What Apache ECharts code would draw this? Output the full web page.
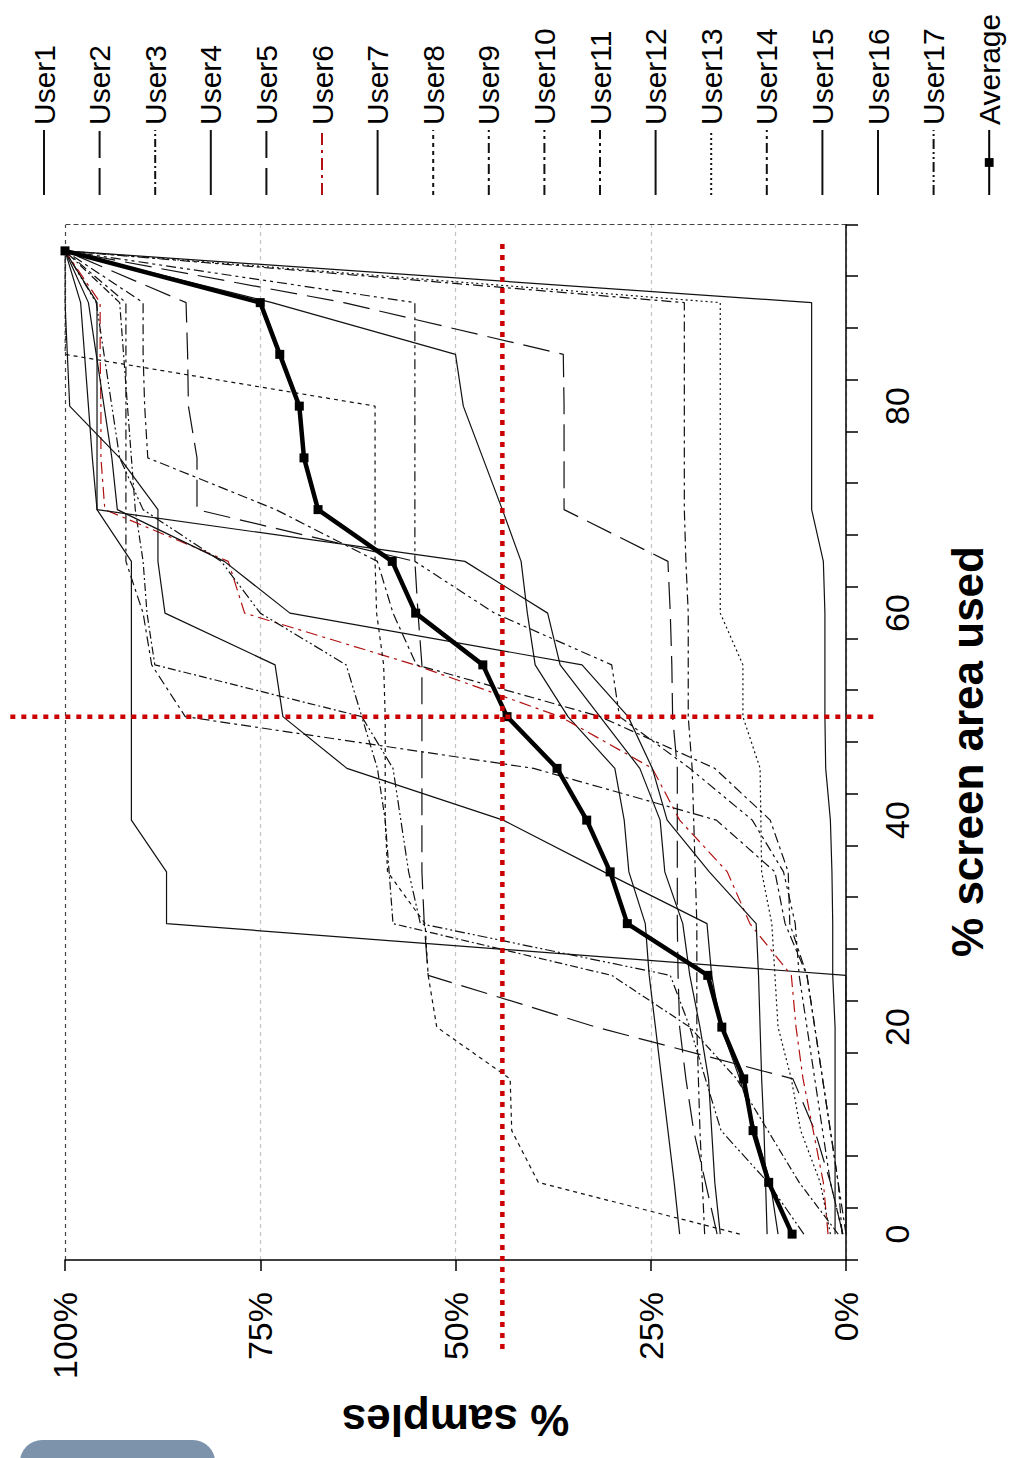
<!DOCTYPE html>
<html><head><meta charset="utf-8">
<script src="https://cdn.jsdelivr.net/npm/echarts@6/dist/echarts.min.js"></script>
<style>
html,body{margin:0;padding:0;background:#fff;overflow:hidden;width:1013px;height:1458px;}
#chart{position:absolute;left:0;top:0;width:1458px;height:1013px;transform-origin:0 0;transform:translate(0px,1458px) rotate(-90deg);}
</style></head><body><div id="chart"></div>
<script>
// x categories: % screen area used
const categories = ['0','5','10','15','20','25','30','35','40','45','50','55','60','65','70','75','80','85','90','95'];
const xTickLabels = ['0','20','40','60','80'];
const yTickValues = [0,25,50,75,100];
// % samples per user
const user1  = [0,0,0,0,0,0,87,87,91.5,91.5,91.5,91.5,91.5,91.5,95.9,95.9,95.9,95.9,95.9,100];
const user2  = [16.5,18.0,19.5,20.5,21.3,21.5,21.6,21.6,21.6,21.6,22.2,22.3,22.5,22.8,36.1,36.1,36.1,36.2,64.3,100];
const user3  = [1.0,6,10,14,20,30,58,58.5,59,60,62,88.5,89.5,90,91,91.5,92,92.5,93,100];
const user4  = [21.3,22.0,22.8,23.6,24.4,25.2,25.7,27.8,28.4,29.6,35.6,39.8,40.8,41.6,44.0,46.5,49.0,50.0,73.5,100];
const user5  = [0.4,2.0,4.0,6.8,32.0,53.5,54.0,54.3,54.3,54.3,54.3,54.3,54.8,55.2,83.1,83.1,84.2,84.3,84.5,100];
const user6  = [2.3,2.9,4.2,5.5,6.4,7.0,12.3,15.2,21.3,24.8,36.6,55.2,77.0,79.1,94.9,95.4,95.4,95.5,95.5,100];
const user7  = [8.7,9.7,11.6,13.6,16.0,17.2,17.8,31.0,43.9,63.9,72.1,73.1,87.2,88.1,88.1,93.0,99.4,99.7,100,100];
const user8  = [13.6,39.4,42.8,43.0,52.4,53.5,53.9,58.7,59.0,59.0,59.0,59.2,60.1,60.3,60.3,60.3,60.3,100,100,100];
const user9  = [0.5,1,2,3,4,5,7.8,9.1,16.6,40,84.6,88.9,90.0,92.2,92.2,92.2,92.2,92.2,92.2,100];
const user10 = [0,1,2,3,4,5,7.2,7.4,9.7,16.8,31.5,55,58,60,73,89.4,89.8,90,90,100];
const user11 = [0.4,2,3,4,5,6,6.5,8,12,20,29,30,45,55.2,55.2,55.2,55.2,55.2,55.2,100];
const user12 = [10.1,10.3,10.5,10.8,11.0,11.2,11.5,17.5,22.9,24.8,27.9,33.8,71.2,79.6,93.3,94.0,95.0,96.0,97.0,100];
const user13 = [2.0,3.3,5.8,7.0,8.7,9.1,9.5,10.8,10.9,11.0,13.2,13.2,16.1,16.1,16.1,16.1,16.1,16.1,16.1,100];
const user14 = [18.1,18.4,18.7,18.9,19.1,19.1,19.1,19.3,19.5,19.7,20.2,20.2,20.2,20.5,20.7,20.7,20.7,20.7,20.7,100];
const user15 = [1.4,1.4,1.4,1.4,1.4,1.7,1.7,1.8,2.0,2.6,2.7,2.7,2.7,2.9,4.4,4.4,4.4,4.4,4.4,100];
const user16 = [16.1,16.8,17.2,17.6,18.7,20.0,20.9,23.2,23.8,26.4,31.5,36.6,38.2,48.8,95.9,96.5,97.0,97.5,98.0,100];
const user17 = [5.4,10,16,18,20,22.5,54.5,56,57,58,62,64,75,80,90,93,94,95,96,100];
const average = [6.9,9.9,11.9,13.1,15.9,17.7,28.0,30.2,33.2,37.0,43.4,46.5,55.1,58.1,67.6,69.4,70.0,72.5,75.0,100];
const crossCategory = '50';
const crossValue = 44;

const userNames = ['User1','User2','User3','User4','User5','User6','User7','User8','User9','User10','User11','User12','User13','User14','User15','User16','User17'];
const userData = [user1,user2,user3,user4,user5,user6,user7,user8,user9,user10,user11,user12,user13,user14,user15,user16,user17];
const userDash = ['solid',[27,10],[8,3,2,3],'solid',[27,10],[12,5,3,5],'solid',[4,4],[10,4,3,4],[10,4,3,4],[10,4,3,4,3,4],'solid',[2,3],[10,4,3,4],'solid','solid',[10,3,2,3,2,3]];
const userColor = ['#111','#111','#111','#111','#111','#b01010','#111','#111','#111','#111','#111','#111','#111','#111','#111','#111','#111'];

const FONT = '"Liberation Sans", Arial, sans-serif';
const chart = echarts.init(document.getElementById('chart'), null, {renderer:'svg'});

const series = userNames.map((n,i)=>({
  name:n, type:'line', data:userData[i], symbol:'none', animation:false,
  lineStyle:{width:1.2, color:userColor[i], type:userDash[i]}, itemStyle:{color:userColor[i]}, z:2
}));
series.push({
  name:'Average', type:'line', data:average, symbol:'rect', symbolSize:9, animation:false,
  lineStyle:{width:4.5, color:'#000'}, itemStyle:{color:'#000'}, z:5
});

const legendData = userNames.map(n=>({name:n, itemStyle:{opacity:0}}));
legendData.push({name:'Average'});

chart.setOption({
  animation:false,
  backgroundColor:'#fff',
  textStyle:{fontFamily:FONT},
  grid:{left:198, right:225, top:65, bottom:167, containLabel:false},
  legend:{
    orient:'vertical', left:1262, top:29, itemWidth:65, itemHeight:11, itemGap:25.6, padding:0,
    textStyle:{fontSize:30, color:'#000', fontFamily:FONT, lineHeight:30},
    data:legendData
  },
  xAxis:{
    type:'category', data:categories, boundaryGap:true,
    name:'% screen area used', nameLocation:'middle', nameGap:99,
    nameTextStyle:{fontSize:44, fontWeight:'bold', color:'#000', fontFamily:FONT, padding:[0,18,0,0]},
    axisLine:{show:true, lineStyle:{color:'#000', width:1.5}},
    axisTick:{show:true, interval:0, length:12, lineStyle:{color:'#000', width:1.5}},
    axisLabel:{interval:0, fontSize:34, color:'#000', margin:34, fontFamily:FONT,
      formatter:(v)=> xTickLabels.includes(v) ? v : ''},
    splitLine:{show:false}
  },
  yAxis:[{
    type:'value', min:yTickValues[0], max:yTickValues[yTickValues.length-1], interval:25,
    name:'% samples', nameLocation:'middle', nameGap:138,
    nameTextStyle:{fontSize:44, fontWeight:'bold', color:'#000', fontFamily:FONT},
    axisLine:{show:true, lineStyle:{color:'#000', width:1.5}},
    axisTick:{show:true, length:11, lineStyle:{color:'#000', width:1.5}},
    axisLabel:{fontSize:34, color:'#000', margin:32, formatter:'{value}%', fontFamily:FONT},
    splitLine:{show:true, lineStyle:{color:['#bbb','#c4c4c4','#c4c4c4','#c4c4c4','#444'], type:[4,4], width:1.2}}
  },{
    type:'value', position:'right', min:yTickValues[0], max:yTickValues[yTickValues.length-1], interval:25,
    axisLine:{show:true, lineStyle:{color:'#444', type:[4,4], width:1.2}},
    axisTick:{show:false}, axisLabel:{show:false}, splitLine:{show:false}
  }],
  series:series
});

// red crosshair, positioned through the axes
const ci = categories.indexOf(crossCategory);
const px0 = chart.convertToPixel({xAxisIndex:0}, 0);
const px1 = chart.convertToPixel({xAxisIndex:0}, 1);
const step = px1 - px0;
const cx = px0 + step*ci;
const cy = chart.convertToPixel({yAxisIndex:0}, crossValue);
const yTop = chart.convertToPixel({yAxisIndex:0}, 107);
const yBot = chart.convertToPixel({yAxisIndex:0}, -3.7);
const xLeft = px0 + step*(-2.22);
const xRight = px0 + step*19.15;
chart.setOption({graphic:[
  {type:'line', z:100, shape:{x1:cx, y1:yTop, x2:cx, y2:yBot}, style:{stroke:'#cc0000', lineWidth:4.5, lineDash:[5,6]}},
  {type:'line', z:100, shape:{x1:xLeft, y1:cy, x2:xRight, y2:cy}, style:{stroke:'#cc0000', lineWidth:4.5, lineDash:[5,6]}},
  {type:'rect', z:100, shape:{x:-40, y:20, width:58, height:195, r:22}, style:{fill:'#7d93ac'}}
]});
</script></body></html>
